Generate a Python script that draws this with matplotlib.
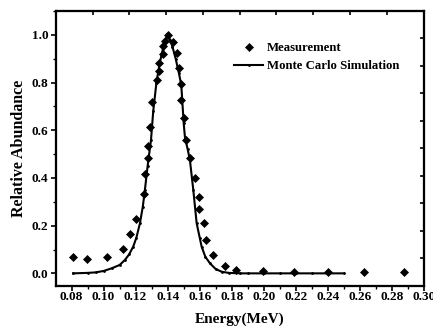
import numpy as np
import matplotlib
matplotlib.use("Agg")
import matplotlib.pyplot as plt
from matplotlib.ticker import MultipleLocator, NullFormatter

# Measurement data
meas_x = [0.0811, 0.0898, 0.1022, 0.1123, 0.1165, 0.1204, 0.1250, 0.1260, 0.1275, 0.1275,
          0.1292, 0.1304, 0.1331, 0.1348, 0.1348, 0.1371, 0.1371, 0.1385, 0.1404, 0.1431,
          0.1460, 0.1473, 0.1485, 0.1485, 0.1500, 0.1515, 0.1540, 0.1571, 0.1598, 0.1598,
          0.1625, 0.1642, 0.1683, 0.1756, 0.1825, 0.1995, 0.2189, 0.2403, 0.2626, 0.2878]
meas_y = [0.067, 0.059, 0.067, 0.102, 0.164, 0.229, 0.331, 0.417, 0.485, 0.536,
          0.615, 0.717, 0.811, 0.849, 0.884, 0.920, 0.955, 0.976, 1.000, 0.968,
          0.923, 0.862, 0.794, 0.727, 0.652, 0.559, 0.482, 0.401, 0.322, 0.270,
          0.213, 0.140, 0.077, 0.032, 0.015, 0.011, 0.007, 0.007, 0.007, 0.007]

# Monte Carlo simulation curve
sim_x = [0.081, 0.090, 0.095, 0.100, 0.105, 0.110, 0.1133, 0.116, 0.1185, 0.1205,
         0.1227, 0.1245, 0.1258, 0.1275, 0.1296, 0.131, 0.133, 0.135, 0.137, 0.1385,
         0.140, 0.1415, 0.143, 0.145, 0.147, 0.1485, 0.150, 0.1508, 0.1525, 0.1539,
         0.156, 0.1581, 0.160, 0.1612, 0.1635, 0.1664, 0.170, 0.1737, 0.178, 0.185,
         0.19, 0.20, 0.21, 0.22, 0.23, 0.24, 0.25]
sim_y = [0.000, 0.002, 0.004, 0.010, 0.021, 0.035, 0.056, 0.080, 0.112, 0.150,
         0.210, 0.280, 0.350, 0.450, 0.559, 0.680, 0.800, 0.880, 0.940, 0.975,
         1.000, 0.980, 0.950, 0.900, 0.840, 0.790, 0.630, 0.570, 0.520, 0.475,
         0.350, 0.210, 0.150, 0.112, 0.070, 0.042, 0.018, 0.007, 0.002, 0.000,
         0.000, 0.000, 0.000, 0.000, 0.000, 0.000, 0.000]

xticks = [0.08, 0.10, 0.12, 0.14, 0.16, 0.18, 0.20, 0.22, 0.24, 0.26, 0.28, 0.30]
yticks = [0.0, 0.2, 0.4, 0.6, 0.8, 1.0]
top_ticks = [0.0932 + 0.02294 * i for i in range(9)]
right_ticks = [0.063 + 0.1153 * i for i in range(9)]

plt.rcParams['font.family'] = ['Liberation Serif', 'DejaVu Serif']
plt.rcParams['font.weight'] = 'bold'

fig = plt.figure(figsize=(4.33, 3.26), dpi=100)
ax = fig.add_axes([0.1293, 0.1227, 0.9792 - 0.1293, 0.9663 - 0.1227])

ax.plot(meas_x, meas_y, linestyle='none', marker='D', markersize=4.0,
        color='black', markeredgewidth=0.5, label='Measurement', zorder=3)
ax.plot(sim_x, sim_y, '-', color='black', lw=1.5, marker='.', markersize=2,
        label='Monte Carlo Simulation', zorder=2)

ax.set_xlim(0.0703, 0.30)
ax.set_ylim(-0.053, 1.10)
ax.set_xticks(xticks)
ax.set_xticklabels([f"{v:.2f}" for v in xticks])
ax.set_yticks(yticks)
ax.set_yticklabels([f"{v:.1f}" for v in yticks])
ax.xaxis.set_minor_locator(MultipleLocator(0.01))
ax.yaxis.set_minor_locator(MultipleLocator(0.1))
ax.tick_params(which='major', direction='out', length=3.5, width=1.2, labelsize=9.5)
ax.tick_params(axis='x', which='major', pad=0)
ax.tick_params(axis='y', which='major', pad=2)
ax.tick_params(which='minor', direction='out', length=2, width=1.0)
for lab in ax.get_xticklabels() + ax.get_yticklabels():
    lab.set_fontweight('bold')
for s in ax.spines.values():
    s.set_linewidth(1.5)

ax.set_xlabel('Energy(MeV)', fontsize=11, fontweight='bold', labelpad=7)
ax.set_ylabel('Relative Abundance', fontsize=11.5, fontweight='bold', labelpad=3)

# top / right inward ticks
axt = ax.twiny()
axt.set_xlim(ax.get_xlim())
axt.set_xticks(top_ticks)
axt.xaxis.set_major_formatter(NullFormatter())
axt.tick_params(axis='x', direction='in', length=3, width=1.2)
axr = ax.twinx()
axr.set_ylim(ax.get_ylim())
axr.set_yticks(right_ticks)
axr.yaxis.set_major_formatter(NullFormatter())
axr.tick_params(axis='y', direction='in', length=3, width=1.2)
for a in (axt, axr):
    for s in a.spines.values():
        s.set_linewidth(1.5)

leg = ax.legend(loc='upper left', bbox_to_anchor=(0.47, 0.905), frameon=False,
                fontsize=9.2, handlelength=2.3, handletextpad=0.3,
                labelspacing=0.45, borderaxespad=0)
for t in leg.get_texts():
    t.set_fontweight('bold')

fig.savefig('out.png', dpi=100)
